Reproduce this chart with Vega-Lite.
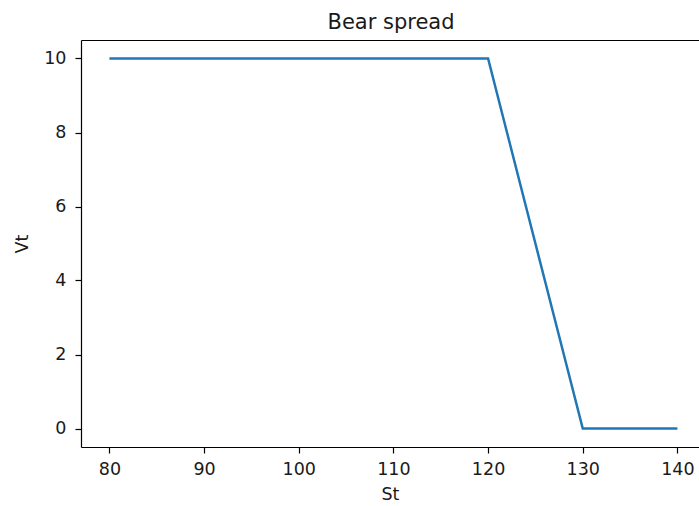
{
  "$schema": "https://vega.github.io/schema/vega-lite/v6.json",
  "width": 618,
  "height": 407,
  "autosize": {"type": "none"},
  "padding": {"left": 81, "top": 40, "right": 0, "bottom": 59},
  "background": "white",
  "config": {
    "view": {"stroke": null},
    "font": "DejaVu Sans",
    "axis": {
      "grid": false,
      "domainColor": "#000000",
      "domainWidth": 1.2,
      "tickColor": "#000000",
      "tickSize": 6,
      "tickWidth": 1.2,
      "labelFont": "DejaVu Sans",
      "labelFontSize": 17.5,
      "labelColor": "#1a1a1a",
      "titleFont": "DejaVu Sans",
      "titleFontSize": 17.5,
      "titleFontWeight": "normal",
      "titleColor": "#1a1a1a"
    }
  },
  "title": {
    "text": "Bear spread",
    "font": "DejaVu Sans",
    "fontSize": 21,
    "fontWeight": "normal",
    "color": "#1a1a1a",
    "anchor": "middle",
    "offset": 7,
    "dx": 1
  },
  "data": {
    "values": [
      {"St": 80, "Vt": 10}, {"St": 81, "Vt": 10}, {"St": 82, "Vt": 10}, {"St": 83, "Vt": 10}, {"St": 84, "Vt": 10},
      {"St": 85, "Vt": 10}, {"St": 86, "Vt": 10}, {"St": 87, "Vt": 10}, {"St": 88, "Vt": 10}, {"St": 89, "Vt": 10},
      {"St": 90, "Vt": 10}, {"St": 91, "Vt": 10}, {"St": 92, "Vt": 10}, {"St": 93, "Vt": 10}, {"St": 94, "Vt": 10},
      {"St": 95, "Vt": 10}, {"St": 96, "Vt": 10}, {"St": 97, "Vt": 10}, {"St": 98, "Vt": 10}, {"St": 99, "Vt": 10},
      {"St": 100, "Vt": 10}, {"St": 101, "Vt": 10}, {"St": 102, "Vt": 10}, {"St": 103, "Vt": 10}, {"St": 104, "Vt": 10},
      {"St": 105, "Vt": 10}, {"St": 106, "Vt": 10}, {"St": 107, "Vt": 10}, {"St": 108, "Vt": 10}, {"St": 109, "Vt": 10},
      {"St": 110, "Vt": 10}, {"St": 111, "Vt": 10}, {"St": 112, "Vt": 10}, {"St": 113, "Vt": 10}, {"St": 114, "Vt": 10},
      {"St": 115, "Vt": 10}, {"St": 116, "Vt": 10}, {"St": 117, "Vt": 10}, {"St": 118, "Vt": 10}, {"St": 119, "Vt": 10},
      {"St": 120, "Vt": 10}, {"St": 121, "Vt": 9}, {"St": 122, "Vt": 8}, {"St": 123, "Vt": 7}, {"St": 124, "Vt": 6},
      {"St": 125, "Vt": 5}, {"St": 126, "Vt": 4}, {"St": 127, "Vt": 3}, {"St": 128, "Vt": 2}, {"St": 129, "Vt": 1},
      {"St": 130, "Vt": 0}, {"St": 131, "Vt": 0}, {"St": 132, "Vt": 0}, {"St": 133, "Vt": 0}, {"St": 134, "Vt": 0},
      {"St": 135, "Vt": 0}, {"St": 136, "Vt": 0}, {"St": 137, "Vt": 0}, {"St": 138, "Vt": 0}, {"St": 139, "Vt": 0},
      {"St": 140, "Vt": 0}
    ]
  },
  "resolve": {"axis": {"x": "independent"}},
  "layer": [
    {
      "mark": {"type": "line", "color": "#1f77b4", "strokeWidth": 2.5, "clip": true},
      "encoding": {
        "x": {
          "field": "St",
          "type": "quantitative",
          "scale": {"domain": [77, 142.28], "nice": false, "zero": false},
          "axis": {"values": [80, 90, 100, 110, 120, 130, 140], "labelPadding": 7, "titlePadding": 8, "format": "d"}
        },
        "y": {
          "field": "Vt",
          "type": "quantitative",
          "scale": {"domain": [-0.5, 10.5], "nice": false, "zero": false},
          "axis": {"values": [0, 2, 4, 6, 8, 10], "labelPadding": 9, "titlePadding": 12, "format": "d"}
        }
      }
    },
    {
      "mark": {"type": "line", "opacity": 0, "clip": true},
      "encoding": {
        "x": {
          "field": "St",
          "type": "quantitative",
          "axis": {"orient": "top", "labels": false, "ticks": false, "title": null}
        },
        "y": {"field": "Vt", "type": "quantitative"}
      }
    }
  ]
}
